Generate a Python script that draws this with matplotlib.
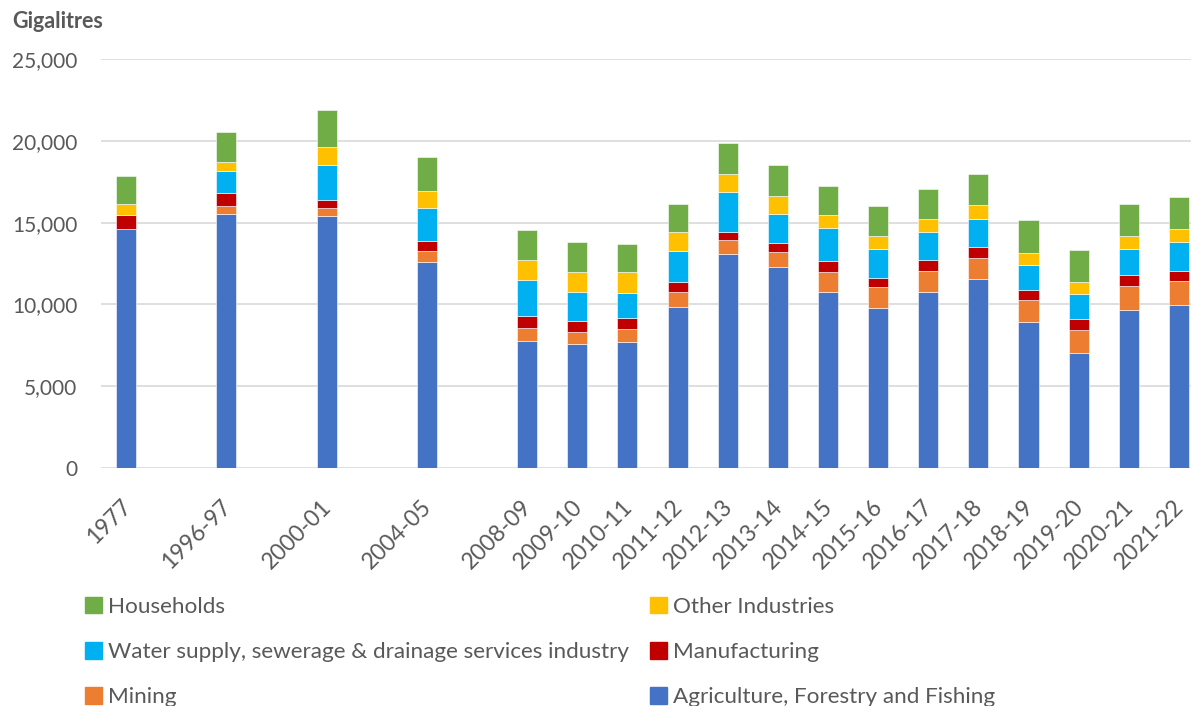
import numpy as np
import matplotlib.pyplot as plt
import matplotlib.transforms as mtransforms
from matplotlib.patches import Patch

plt.rcParams['font.family'] = ['Lato', 'DejaVu Sans']

# blank strings are empty category slots in the original chart
years = ['1977', '', '1996-97', '', '2000-01', '', '2004-05', '',
         '2008-09', '2009-10', '2010-11', '2011-12', '2012-13', '2013-14',
         '2014-15', '2015-16', '2016-17', '2017-18', '2018-19', '2019-20',
         '2020-21', '2021-22']
nan = np.nan

# gigalitres
agriculture = [14610, nan, 15540, nan, 15380, nan, 12570, nan,
               7740, 7560, 7720, 9840, 13060, 12300,
               10780, 9760, 10780, 11550, 8920, 7050, 9680, 9940]
mining = [0, nan, 490, nan, 490, nan, 670, nan,
          840, 770, 750, 940, 850, 920,
          1180, 1280, 1260, 1260, 1350, 1360, 1440, 1510]
manufacturing = [830, nan, 780, nan, 530, nan, 610, nan,
                 690, 650, 700, 590, 520, 530,
                 690, 590, 690, 670, 590, 670, 680, 590]
water_supply = [0, nan, 1360, nan, 2120, nan, 2040, nan,
                2200, 1800, 1530, 1870, 2460, 1780,
                2040, 1770, 1700, 1720, 1520, 1530, 1600, 1790]
other_industries = [700, nan, 510, nan, 1100, nan, 1020, nan,
                    1260, 1180, 1260, 1190, 1100, 1100,
                    750, 760, 770, 850, 760, 760, 780, 750]
households = [1680, nan, 1860, nan, 2280, nan, 2100, nan,
              1790, 1870, 1710, 1710, 1880, 1890,
              1770, 1870, 1850, 1940, 2040, 1950, 1960, 1960]

series = [
    ('Agriculture, Forestry and Fishing', agriculture, '#4472C4'),
    ('Mining', mining, '#ED7D31'),
    ('Manufacturing', manufacturing, '#C00000'),
    ('Water supply, sewerage & drainage services industry', water_supply, '#00B0F0'),
    ('Other Industries', other_industries, '#FFC000'),
    ('Households', households, '#70AD47'),
]

grey = '#595959'

fig = plt.figure(figsize=(11.91, 7.06), dpi=100)
ax = fig.add_axes([101 / 1191, 1 - 468 / 706, 1103 / 1191, 409 / 706])

x = np.arange(len(years))
bottom = np.zeros(len(years))
for name, vals, col in series:
    vals = np.array(vals, dtype=float)
    ax.bar(x, vals, width=0.4, bottom=bottom, color=col, label=name,
           edgecolor='white', linewidth=0.4, zorder=3)
    bottom = bottom + vals

ax.set_xlim(-0.5, len(years) - 0.5)
ax.set_ylim(0, 25000)
ax.set_yticks(np.arange(0, 25001, 5000))
ax.set_yticklabels([f'{v:,}' for v in range(0, 25001, 5000)])
ax.yaxis.grid(True, color='#d9d9d9', linewidth=1.2, zorder=0)
ax.set_axisbelow(True)
for s in ax.spines.values():
    s.set_visible(False)
ax.tick_params(axis='both', length=0, labelsize=15, labelcolor=grey)
ax.tick_params(axis='y', pad=17)
ax.tick_params(axis='x', pad=20, labelsize=16.5)

ax.set_xticks(x)
ax.set_xticklabels(years, rotation=45, ha='right', rotation_mode='anchor')
# nudge the slanted labels a little to the left, as in the original
shift = mtransforms.ScaledTranslation(-6 / 100, 0, fig.dpi_scale_trans)
for lbl in ax.get_xticklabels():
    lbl.set_transform(lbl.get_transform() + shift)

fig.text(12 / 1191, 1 - 22 / 706, 'Gigalitres', fontsize=15.5, fontweight='bold',
         color=grey, va='center', ha='left')

# legend laid out row by row like the original (ncol fills column-wise)
order = [5, 3, 1, 4, 2, 0]
handles = [Patch(color=series[i][2]) for i in order]
labels = [series[i][0] for i in order]
fig.legend(handles, labels, ncol=2, loc='upper left',
           bbox_to_anchor=(78 / 1191, 1 - 590 / 706), frameon=False,
           fontsize=16.2, labelcolor=grey, handlelength=0.75, handleheight=0.75,
           handletextpad=0.3, columnspacing=0.9, labelspacing=1.12,
           borderaxespad=0, borderpad=0.3)

fig.savefig('out.png', dpi=100)
